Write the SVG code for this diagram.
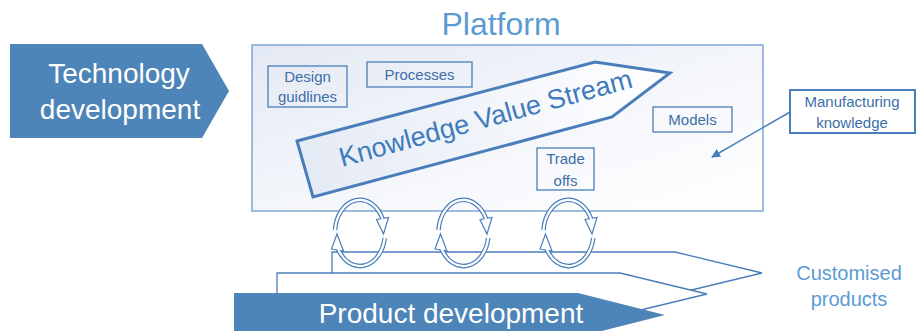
<svg xmlns="http://www.w3.org/2000/svg" xmlns:xlink="http://www.w3.org/1999/xlink" width="916" height="331" viewBox="0 0 916 331">
<style>
  text { font-family: "Liberation Sans", Arial, sans-serif; }
  .big { font-size: 28px; fill: #ffffff; text-anchor: middle; }
  .title { font-size: 32px; fill: #5b9bd5; text-anchor: middle; }
  .side { font-size: 20px; fill: #5b9bd5; text-anchor: middle; }
  .lbl { font-size: 15px; fill: #3c6fa6; text-anchor: middle; }
  .box { fill: none; stroke: #4a7ebb; stroke-width: 1.3; }
  .blue { fill: #4e85b8; }
  .chev { fill: #ffffff; stroke: #4a7ebb; stroke-width: 1.3; }
  .cyc-out { fill: none; stroke: #4a7ebb; stroke-width: 4.6; }
  .cyc-in { fill: none; stroke: #ffffff; stroke-width: 2.2; }
  .cyc-head { fill: #ffffff; stroke: #4a7ebb; stroke-width: 1.2; stroke-linejoin: miter; }
</style>
<defs>
  <linearGradient id="platGrad" x1="0" y1="0" x2="1" y2="1">
    <stop offset="0" stop-color="#e3e9f4"/>
    <stop offset="0.55" stop-color="#f5f7fb"/>
    <stop offset="1" stop-color="#ffffff"/>
  </linearGradient>
  <linearGradient id="kvsGrad" gradientUnits="userSpaceOnUse" x1="300" y1="170" x2="670" y2="75">
    <stop offset="0" stop-color="#e4eaf5"/>
    <stop offset="1" stop-color="#ffffff"/>
  </linearGradient>
  <marker id="arrowHead" viewBox="0 0 10 10" refX="9" refY="5" markerWidth="9" markerHeight="9" orient="auto" markerUnits="userSpaceOnUse">
    <path d="M0,0 L10,5 L0,10 z" fill="#4a7ebb"/>
  </marker>
  <g id="cycle">
    <path class="cyc-out" d="M -25,-3 A 25,33 0 0 1 22.6,-14"/>
    <path class="cyc-out" d="M 24.7,5 A 25,33 0 0 1 -21.9,16"/>
    <polygon class="cyc-head" points="16.5,-13.5 28.5,-15.5 23.5,1"/>
    <polygon class="cyc-head" points="-28.5,16 -16.5,18 -23,1"/>
    <path class="cyc-in" d="M -25,-3 A 25,33 0 0 1 22.6,-14"/>
    <path class="cyc-in" d="M 24.7,5 A 25,33 0 0 1 -21.9,16"/>
  </g>
</defs>

<rect width="916" height="331" fill="#ffffff"/>

<g id="technology-development">
  <polygon class="blue" points="10,44 202,44 229,91 202,138 10,138"/>
  <text class="big" x="119" y="83">Technology</text>
  <text class="big" x="120" y="119">development</text>
</g>

<g id="platform">
  <text class="title" x="501" y="35">Platform</text>
  <rect x="252" y="45" width="511" height="166" fill="url(#platGrad)" stroke="#7ea6d3" stroke-width="1.5"/>
</g>

<g id="design-guidlines">
  <rect class="box" x="268" y="66" width="79" height="41"/>
  <text class="lbl" x="307.5" y="82">Design</text>
  <text class="lbl" x="307.5" y="102">guidlines</text>
</g>

<g id="processes">
  <rect class="box" x="367" y="62" width="105" height="25"/>
  <text class="lbl" x="419.5" y="80">Processes</text>
</g>

<g id="knowledge-value-stream">
  <polygon points="297,141 595,62 670,73 612,117 313,197" fill="url(#kvsGrad)" stroke="#4a7ebb" stroke-width="3" stroke-linejoin="miter"/>
  <text x="488" y="127" transform="rotate(-15.3 488 127)" font-size="27" fill="#3f7bbb" text-anchor="middle">Knowledge Value Stream</text>
</g>

<g id="models">
  <rect class="box" x="653" y="107" width="79" height="25"/>
  <text class="lbl" x="692.5" y="125">Models</text>
</g>

<g id="trade-offs">
  <rect class="box" x="537" y="148" width="57" height="42"/>
  <text class="lbl" x="565.5" y="164">Trade</text>
  <text class="lbl" x="565.5" y="186">offs</text>
</g>

<g id="manufacturing-knowledge">
  <rect x="790" y="90" width="125" height="43" fill="#ffffff" stroke="#4a7ebb" stroke-width="2"/>
  <text class="lbl" x="852" y="107" font-size="16">Manufacturing</text>
  <text class="lbl" x="852" y="128" font-size="16">knowledge</text>
</g>

<g id="product-development">
  <polygon class="chev" points="332,252 675,252 762,273 675,294 332,294"/>
  <polygon class="chev" points="277,273 620,273 707,294 620,315 277,315"/>
  <polygon class="blue" points="234,293 578,293 665,315 578,337 234,337"/>
  <text class="big" x="451" y="323">Product development</text>
</g>

<g id="customised-products">
  <text class="side" x="849" y="280">Customised</text>
  <text class="side" x="849" y="306">products</text>
</g>

<g id="connectors">
  <line x1="790" y1="112" x2="712" y2="157" stroke="#4a7ebb" stroke-width="1.5" marker-end="url(#arrowHead)"/>
  <use xlink:href="#cycle" x="360" y="233"/>
  <use xlink:href="#cycle" x="463.5" y="233"/>
  <use xlink:href="#cycle" x="568.5" y="233"/>
</g>
</svg>
